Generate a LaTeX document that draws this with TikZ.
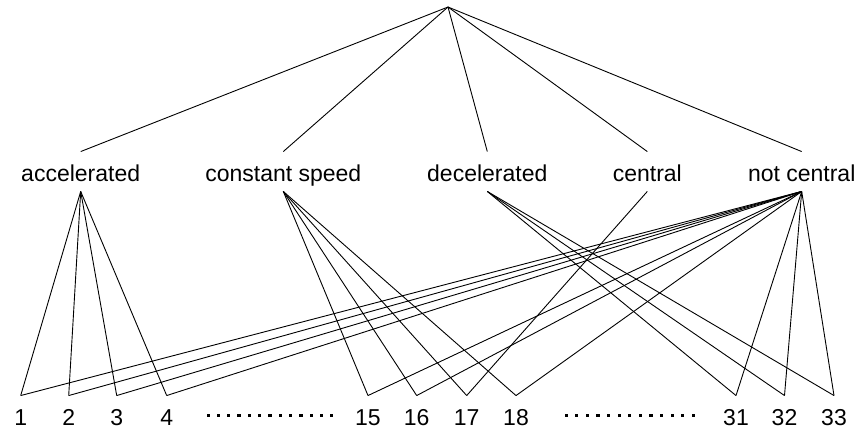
\documentclass[tikz,border=0pt]{standalone}
\usepackage{fontspec}
\setmainfont{Liberation Sans}

\begin{document}
\begin{tikzpicture}[x=1pt, y=-1pt, line width=0.9pt,
  cat/.style={font=\fontsize{23}{27}\selectfont, inner sep=0,
    text height=29.5pt, text depth=9.5pt, anchor=base},
  num/.style={font=\fontsize{23}{27}\selectfont, inner sep=0,
    text height=29pt, text depth=0pt, anchor=base},
  ]
  \useasboundingbox (0,0) rectangle (868,429);
  \coordinate (root) at (448,7);
  \node[cat] (acc)  at (80.7,181.5)  {accelerated};
  \node[cat] (cons) at (283.3,181.5) {constant speed};
  \node[cat] (dec)  at (487.3,181.5) {decelerated};
  \node[cat] (cen)  at (647.3,181.5) {central};
  \node[cat] (notc) at (801.7,181.5) {not central};
  \foreach \n/\x in {1/20.7, 2/68.7, 3/116.7, 4/166.7, 15/368, 16/416.7,
    17/466.7, 18/516, 31/736, 32/784.5, 33/834}
    \node[num] (n\n) at (\x,425) {\n};
  % root to categories
  \foreach \c in {acc,cons,dec,cen,notc}
    \draw (root) -- (\c.north);
  % categories to cases
  \foreach \n in {1,2,3,4}
    \draw (acc.south) -- (n\n.north);
  \foreach \n in {15,16,17,18}
    \draw (cons.south) -- (n\n.north);
  \foreach \n in {31,32,33}
    \draw (dec.south) -- (n\n.north);
  \draw (cen.south) -- (n17.north);
  \foreach \n in {1,2,3,4,15,16,18,31,32,33}
    \draw (notc.south) -- (n\n.north);
  % dotted gaps
  \foreach \i in {0,...,12} {
    \fill (206.5+10.3*\i,414) rectangle ++(3.3,3.3);
    \fill (564.5+10.6*\i,414) rectangle ++(3.3,3.3);
  }
\end{tikzpicture}
\end{document}
